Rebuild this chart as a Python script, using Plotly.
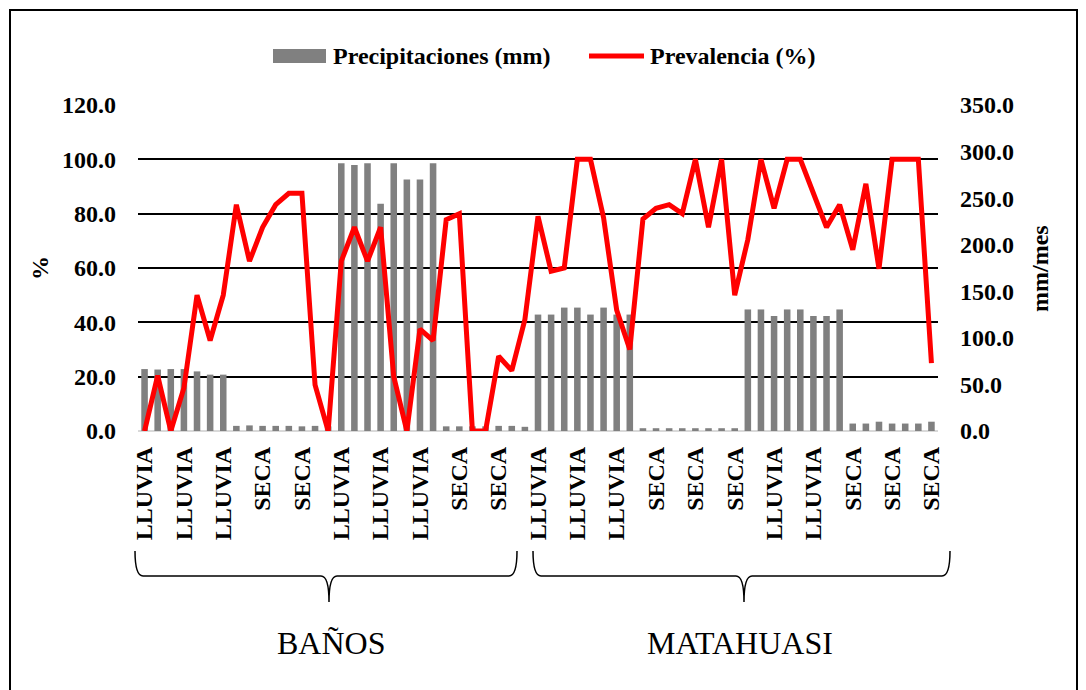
import plotly.graph_objects as go

# Estaciones por mes (Baños: 30 meses, Matahuasi: 31 meses)
estacion = (
    ["LLUVIA"] * 7 + ["SECA"] * 8 + ["LLUVIA"] * 8 + ["SECA"] * 7
    + ["LLUVIA"] * 8 + ["SECA"] * 8 + ["LLUVIA"] * 8 + ["SECA"] * 7
)

precipitaciones = [
    66.5, 66, 66.5, 66.5, 64, 60.5, 60.5,
    5.5, 6, 5.5, 5.5, 5.5, 5, 5.5, 5,
    287.5, 285.5, 287.5, 244, 287.5, 270, 270, 287.5,
    5, 5, 5, 5, 5.5, 5.5, 4.5,
    125, 125, 132.5, 132.5, 125, 132.5, 125, 125,
    3, 3, 3, 3, 3, 3, 3, 3,
    130.5, 130.5, 123.5, 130.5, 130.5, 123.5, 123.5, 130.5,
    8, 8, 10, 8, 8, 8, 10,
]

prevalencia = [
    0, 20.4, 0, 15.8, 50, 33.3, 50,
    83.3, 62.5, 75, 83.3, 87.5, 87.5, 17, 0,
    62.5, 75, 62.5, 75, 20, 0, 37.5, 33.3,
    77.8, 80, 0, 0, 27.5, 22.2, 41,
    79, 58.8, 60, 100, 100, 78.5, 44.5, 30,
    78, 82, 83.3, 80, 100, 75, 100, 50,
    70.5, 100, 82, 100, 100, 87.5, 75, 83.3,
    66.7, 91, 59.7, 100, 100, 100, 25,
]

sitios = ["BAÑOS", "MATAHUASI"]

meses = list(range(len(estacion)))
tick_pos = meses[::3]
tick_txt = [estacion[i] for i in tick_pos]

FONT = "Liberation Serif"
W, H = 1086, 690
PL, PR, PT, PB = 138, 938, 105, 431


def px(x):
    return (x - PL) / (PR - PL)


def py(y):
    return (PB - y) / (PB - PT)


fig = go.Figure()

fig.add_trace(go.Bar(
    x=meses, y=precipitaciones, name="Precipitaciones (mm)",
    marker=dict(color="#808080", line=dict(width=0)),
    width=0.5, yaxis="y",
))

fig.add_trace(go.Scatter(
    x=meses, y=prevalencia, name="Prevalencia (%)",
    mode="lines", line=dict(color="#ff0000", width=5),
    yaxis="y2",
))

tick_font = dict(family=FONT, size=24, color="black", weight="bold")

fig.update_layout(
    width=W, height=H,
    margin=dict(l=PL, r=W - PR, t=PT, b=H - PB),
    paper_bgcolor="white", plot_bgcolor="white",
    showlegend=False,
    bargap=0.5,
    xaxis=dict(
        range=[-0.5, len(meses) - 0.5],
        tickmode="array", tickvals=tick_pos, ticktext=tick_txt,
        tickangle=-90, tickfont=tick_font,
        showgrid=False, zeroline=False, showline=False,
        ticklabelstandoff=10, automargin=False,
    ),
    yaxis=dict(
        range=[0, 350], dtick=50, tickformat=".1f",
        side="right", showgrid=False, zeroline=False,
        tickfont=tick_font, ticklabelstandoff=21, automargin=False,
    ),
    yaxis2=dict(
        range=[0, 120], dtick=20, tickformat=".1f",
        side="left", overlaying="y",
        showgrid=True, gridcolor="black", gridwidth=1.5,
        zeroline=True, zerolinecolor="#d9d9d9", zerolinewidth=2,
        tickfont=tick_font, ticklabelstandoff=21, automargin=False,
    ),
)

shapes = []
annotations = []

# marco exterior
shapes.append(dict(type="rect", xref="paper", yref="paper",
                   x0=px(10), x1=px(1077), y0=py(10), y1=py(700),
                   line=dict(color="black", width=2)))

# leyenda
leg_font = dict(family=FONT, size=24, color="black", weight="bold")
shapes.append(dict(type="rect", xref="paper", yref="paper",
                   x0=px(273), x1=px(326), y0=py(63), y1=py(49),
                   fillcolor="#808080", line=dict(width=0)))
shapes.append(dict(type="line", xref="paper", yref="paper",
                   x0=px(589), x1=px(644), y0=py(56), y1=py(56),
                   line=dict(color="#ff0000", width=5)))
annotations.append(dict(text="Precipitaciones (mm)", xref="paper", yref="paper",
                        x=px(331), y=py(56), xanchor="left", yanchor="middle",
                        showarrow=False, font=leg_font))
annotations.append(dict(text="Prevalencia (%)", xref="paper", yref="paper",
                        x=px(648), y=py(56), xanchor="left", yanchor="middle",
                        showarrow=False, font=leg_font))

# titulos de ejes
annotations.append(dict(text="%", xref="paper", yref="paper", x=px(40), y=py(268),
                        xanchor="center", yanchor="middle",
                        textangle=-90, showarrow=False,
                        font=dict(family=FONT, size=24, color="black", weight="bold")))
annotations.append(dict(text="mm/mes", xref="paper", yref="paper", x=px(1040), y=py(269),
                        xanchor="center", yanchor="middle",
                        textangle=-90, showarrow=False,
                        font=dict(family=FONT, size=24, color="black", weight="bold")))


# llaves de agrupacion
def llave(x0, x1, xc, ytop=551, ymid=576, ytip=602, r=8):
    p = (f"M {px(x0)},{py(ytop)} Q {px(x0)},{py(ymid)} {px(x0 + r)},{py(ymid)} "
         f"L {px(xc - r)},{py(ymid)} Q {px(xc)},{py(ymid)} {px(xc)},{py(ytip)} "
         f"Q {px(xc)},{py(ymid)} {px(xc + r)},{py(ymid)} "
         f"L {px(x1 - r)},{py(ymid)} Q {px(x1)},{py(ymid)} {px(x1)},{py(ytop)}")
    return dict(type="path", xref="paper", yref="paper", path=p,
                line=dict(color="black", width=1.5))


grupos = [(135, 517, 329, 331), (533, 950, 744, 740)]
for (x0, x1, xc, xt), nombre in zip(grupos, sitios):
    shapes.append(llave(x0, x1, xc))
    annotations.append(dict(text=nombre, xref="paper", yref="paper",
                            x=px(xt), y=py(643), xanchor="center", yanchor="middle",
                            showarrow=False, font=dict(family=FONT, size=32, color="black")))

fig.update_layout(shapes=shapes, annotations=annotations)

# quitar el margen por defecto del body para que el grafico empiece en (0,0)
fig.write_html("out.html", config={"displayModeBar": False},
               post_script="document.body.style.margin='0px';")
